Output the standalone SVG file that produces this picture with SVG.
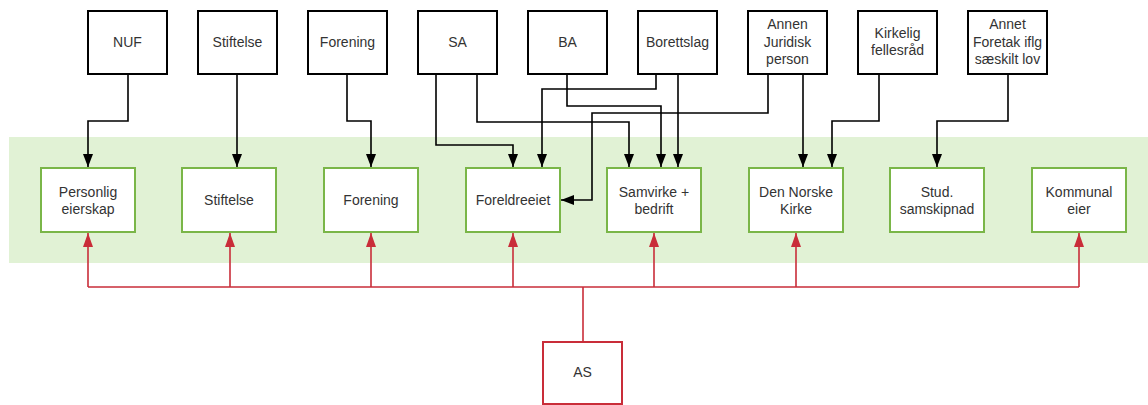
<svg xmlns="http://www.w3.org/2000/svg" width="1148" height="405" viewBox="0 0 1148 405">
<defs>
<style>
.t{font-family:"Liberation Sans",Arial,sans-serif;font-size:14px;fill:#333;text-anchor:middle}
.top{fill:#fff;stroke:#000;stroke-width:2}
.grn{fill:#fff;stroke:#7ab648;stroke-width:2}
.red{fill:#fff;stroke:#c92d39;stroke-width:2}
.cb{fill:none;stroke:#000;stroke-width:1.6}
.cr{fill:none;stroke:#c92d39;stroke-width:1.6}
</style>
<marker id="ab" viewBox="0 0 13 10" markerUnits="userSpaceOnUse" markerWidth="13" markerHeight="10" refX="13" refY="5" orient="auto"><path d="M0,0 L13,5 L0,10 z" fill="#000"/></marker>
<marker id="ar" viewBox="0 0 14 10" markerUnits="userSpaceOnUse" markerWidth="14" markerHeight="10" refX="14" refY="5" orient="auto"><path d="M0,0 L14,5 L0,10 z" fill="#c92d39"/></marker>
</defs>
<rect id="band" x="9" y="137" width="1139" height="126" fill="#e1f2d5"/>
<g id="connectors">
<path class="cb" d="M128,75 V121 H88 V167" marker-end="url(#ab)"/>
<path class="cb" d="M237,75 V167" marker-end="url(#ab)"/>
<path class="cb" d="M347,75 V121 H371 V167" marker-end="url(#ab)"/>
<path class="cb" d="M436,75 V145 H513 V167" marker-end="url(#ab)"/>
<path class="cb" d="M477,75 V122 H629 V167" marker-end="url(#ab)"/>
<path class="cb" d="M567,75 V106 H661 V167" marker-end="url(#ab)"/>
<path class="cb" d="M656,75 V89 H542 V167" marker-end="url(#ab)"/>
<path class="cb" d="M678,75 V167" marker-end="url(#ab)"/>
<path class="cb" d="M768,75 V113 H592 V200 H561" marker-end="url(#ab)"/>
<path class="cb" d="M803,75 V167" marker-end="url(#ab)"/>
<path class="cb" d="M879,75 V121 H832 V167" marker-end="url(#ab)"/>
<path class="cb" d="M1008,75 V121 H937 V167" marker-end="url(#ab)"/>
<path class="cr" d="M583,341 V287"/>
<path class="cr" d="M88,287 H1079"/>
<path class="cr" d="M88,287 V233" marker-end="url(#ar)"/>
<path class="cr" d="M230,287 V233" marker-end="url(#ar)"/>
<path class="cr" d="M371,287 V233" marker-end="url(#ar)"/>
<path class="cr" d="M513,287 V233" marker-end="url(#ar)"/>
<path class="cr" d="M654,287 V233" marker-end="url(#ar)"/>
<path class="cr" d="M796,287 V233" marker-end="url(#ar)"/>
<path class="cr" d="M1079,287 V233" marker-end="url(#ar)"/>
</g>
<g id="nuf"><rect class="top" x="88" y="11" width="79" height="63"/><text class="t" x="127.5" y="47">NUF</text></g>
<g id="stiftelse-top"><rect class="top" x="198" y="11" width="79" height="63"/><text class="t" x="237.5" y="47">Stiftelse</text></g>
<g id="forening-top"><rect class="top" x="308" y="11" width="79" height="63"/><text class="t" x="347.5" y="47">Forening</text></g>
<g id="sa"><rect class="top" x="418" y="11" width="79" height="63"/><text class="t" x="457.5" y="47">SA</text></g>
<g id="ba"><rect class="top" x="528" y="11" width="79" height="63"/><text class="t" x="567.5" y="47">BA</text></g>
<g id="borettslag"><rect class="top" x="638" y="11" width="79" height="63"/><text class="t" x="677.5" y="47">Borettslag</text></g>
<g id="annen"><rect class="top" x="748" y="11" width="79" height="63"/><text class="t" x="787.5" y="29">Annen</text><text class="t" x="787.5" y="47">Juridisk</text><text class="t" x="787.5" y="64">person</text></g>
<g id="kirkelig"><rect class="top" x="858" y="11" width="79" height="63"/><text class="t" x="897.5" y="38">Kirkelig</text><text class="t" x="897.5" y="55">fellesråd</text></g>
<g id="annet"><rect class="top" x="968" y="11" width="79" height="63"/><text class="t" x="1007.5" y="29">Annet</text><text class="t" x="1007.5" y="47">Foretak iflg</text><text class="t" x="1007.5" y="64">sæskilt lov</text></g>
<g id="personlig"><rect class="grn" x="41" y="168" width="94" height="64"/><text class="t" x="88" y="197">Personlig</text><text class="t" x="88" y="214">eierskap</text></g>
<g id="stiftelse"><rect class="grn" x="182" y="168" width="94" height="64"/><text class="t" x="229" y="205">Stiftelse</text></g>
<g id="forening"><rect class="grn" x="324" y="168" width="94" height="64"/><text class="t" x="371" y="205">Forening</text></g>
<g id="foreldreeiet"><rect class="grn" x="466" y="168" width="94" height="64"/><text class="t" x="513" y="205">Foreldreeiet</text></g>
<g id="samvirke"><rect class="grn" x="607" y="168" width="94" height="64"/><text class="t" x="654" y="197">Samvirke +</text><text class="t" x="654" y="214">bedrift</text></g>
<g id="kirke"><rect class="grn" x="749" y="168" width="94" height="64"/><text class="t" x="796" y="197">Den Norske</text><text class="t" x="796" y="214">Kirke</text></g>
<g id="stud"><rect class="grn" x="890" y="168" width="94" height="64"/><text class="t" x="937" y="197">Stud.</text><text class="t" x="937" y="214">samskipnad</text></g>
<g id="kommunal"><rect class="grn" x="1032" y="168" width="94" height="64"/><text class="t" x="1079" y="197">Kommunal</text><text class="t" x="1079" y="214">eier</text></g>
<g id="as"><rect class="red" x="543" y="342" width="79" height="62"/><text class="t" x="582.5" y="377">AS</text></g>
</svg>
